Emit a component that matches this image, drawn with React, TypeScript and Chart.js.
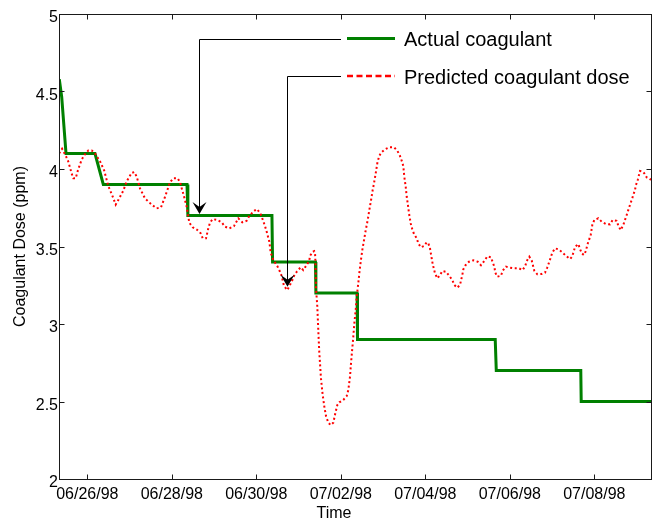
import React, { useEffect, useRef } from 'react';
import { Chart, registerables } from 'chart.js';

Chart.register(...registerables);

// Time axis: days since 06/26/98 00:00
const xMin = -0.67;
const xMax = 13.342;
const tickDays = [0, 2, 4, 6, 8, 10, 12];
const tickLabels = ['06/26/98', '06/28/98', '06/30/98', '07/02/98', '07/04/98', '07/06/98', '07/08/98'];
const yMin = 2;
const yMax = 5;
const yStep = 0.5;

const seriesLabels = ['Actual coagulant', 'Predicted coagulant dose'];

const actualTime = [-0.663, -0.606, -0.504, 0.182, 0.379, 2.36, 2.38, 4.37, 4.385, 5.40, 5.41, 6.385, 6.395, 9.655, 9.68, 11.68, 11.69, 13.342];
const actualDose = [4.58, 4.465, 4.10, 4.10, 3.90, 3.90, 3.70, 3.70, 3.40, 3.40, 3.20, 3.20, 2.90, 2.90, 2.70, 2.70, 2.50, 2.50];

const predictedTime = [
  -0.667, -0.597, -0.464, -0.41, -0.37, -0.33, -0.275, -0.213, -0.133, -0.07,
  0.024, 0.104, 0.182, 0.30, 0.40, 0.497, 0.59, 0.672, 0.734, 0.852,
  0.932, 1.05, 1.11, 1.17, 1.247, 1.366, 1.524, 1.642, 1.744, 1.839,
  1.957, 2.036, 2.14, 2.194, 2.272, 2.352, 2.414, 2.494, 2.59, 2.684,
  2.731, 2.81, 2.864, 2.904, 2.968, 3.077, 3.181, 3.259, 3.361, 3.472,
  3.574, 3.669, 3.773, 3.834, 3.929, 4.009, 4.088, 4.128, 4.206, 4.246,
  4.308, 4.341, 4.402, 4.497, 4.561, 4.601, 4.655, 4.734, 4.838, 4.892,
  4.956, 5.05, 5.112, 5.193, 5.254, 5.27, 5.335, 5.37, 5.39, 5.40,
  5.413, 5.444, 5.467, 5.49, 5.508, 5.53, 5.571, 5.61, 5.65, 5.705,
  5.761, 5.822, 5.87, 5.917, 5.965, 6.059, 6.139, 6.178, 6.218, 6.241,
  6.272, 6.296, 6.32, 6.353, 6.376, 6.414, 6.438, 6.471, 6.509, 6.55,
  6.59, 6.637, 6.675, 6.716, 6.755, 6.786, 6.826, 6.864, 6.904, 6.951,
  7.046, 7.148, 7.259, 7.338, 7.401, 7.441, 7.479, 7.503, 7.536, 7.56,
  7.584, 7.614, 7.654, 7.692, 7.733, 7.796, 7.834, 7.891, 7.969, 8.033,
  8.071, 8.111, 8.151, 8.175, 8.229, 8.284, 8.348, 8.402, 8.49, 8.568,
  8.639, 8.686, 8.757, 8.821, 8.876, 8.9, 8.956, 9.034, 9.136, 9.24,
  9.318, 9.396, 9.467, 9.555, 9.595, 9.633, 9.657, 9.704, 9.792, 9.832,
  9.91, 10.005, 10.107, 10.218, 10.305, 10.367, 10.40, 10.462, 10.518, 10.58,
  10.651, 10.755, 10.833, 10.888, 10.928, 10.969, 11.006, 11.07, 11.148, 11.228,
  11.323, 11.425, 11.472, 11.512, 11.543, 11.621, 11.662, 11.702, 11.756, 11.804,
  11.834, 11.874, 11.915, 11.953, 12.0, 12.095, 12.175, 12.277, 12.371, 12.435,
  12.53, 12.568, 12.624, 12.686, 12.726, 12.766, 12.804, 12.844, 12.885, 12.923,
  12.963, 12.987, 13.027, 13.082, 13.146, 13.183, 13.24, 13.296, 13.342,
];
const predictedDose = [
  4.10, 4.13, 4.06, 4.01, 3.97, 3.94, 3.94, 4.00, 4.06, 4.09,
  4.12, 4.12, 4.10, 4.05, 3.99, 3.89, 3.83, 3.77, 3.80, 3.86,
  3.92, 3.975, 3.98, 3.95, 3.875, 3.81, 3.77, 3.746, 3.753, 3.82,
  3.914, 3.94, 3.94, 3.914, 3.84, 3.757, 3.654, 3.624, 3.61, 3.585,
  3.553, 3.553, 3.617, 3.654, 3.677, 3.671, 3.656, 3.628, 3.617, 3.632,
  3.682, 3.656, 3.666, 3.697, 3.725, 3.742, 3.718, 3.692, 3.632, 3.595,
  3.531, 3.46, 3.413, 3.374, 3.337, 3.31, 3.245, 3.219, 3.273, 3.31,
  3.337, 3.366, 3.348, 3.381, 3.408, 3.439, 3.466, 3.47, 3.456, 3.40,
  3.23, 3.112, 2.961, 2.821, 2.746, 2.65, 2.542, 2.467, 2.406, 2.363,
  2.348, 2.363, 2.424, 2.477, 2.495, 2.51, 2.535, 2.574, 2.66, 2.746,
  2.843, 2.918, 3.004, 3.09, 3.176, 3.263, 3.327, 3.402, 3.477, 3.542,
  3.606, 3.671, 3.735, 3.80, 3.865, 3.908, 3.972, 4.037, 4.08, 4.105,
  4.127, 4.14, 4.14, 4.118, 4.084, 4.054, 4.019, 3.95, 3.886, 3.821,
  3.778, 3.714, 3.65, 3.611, 3.581, 3.553, 3.521, 3.495, 3.503, 3.527,
  3.521, 3.488, 3.424, 3.387, 3.327, 3.295, 3.316, 3.342, 3.337, 3.31,
  3.284, 3.252, 3.234, 3.252, 3.316, 3.353, 3.381, 3.402, 3.411, 3.402,
  3.379, 3.406, 3.436, 3.43, 3.398, 3.37, 3.331, 3.305, 3.312, 3.344,
  3.37, 3.363, 3.359, 3.359, 3.348, 3.376, 3.406, 3.434, 3.41, 3.344,
  3.321, 3.323, 3.331, 3.366, 3.396, 3.43, 3.46, 3.488, 3.482, 3.466,
  3.441, 3.419, 3.434, 3.466, 3.498, 3.516, 3.484, 3.456, 3.445, 3.473,
  3.51, 3.542, 3.574, 3.639, 3.671, 3.682, 3.66, 3.645, 3.643, 3.671,
  3.666, 3.634, 3.606, 3.639, 3.671, 3.703, 3.735, 3.768, 3.80, 3.832,
  3.865, 3.897, 3.929, 3.987, 3.983, 3.972, 3.946, 3.94, 3.93,
];

// Arrow targets (time, dose) for the legend-to-curve annotation arrows
const arrowTime = [2.65, 4.734];
const arrowDose = [3.71, 3.24];

const FONT = "'Liberation Sans', Arial, Helvetica, sans-serif";
const GREEN = 'rgb(0,128,0)';
const RED = 'rgb(255,0,0)';
const AXIS = '#1a1a1a';

const decorPlugin = {
  id: 'decor',
  afterDatasetsDraw(chart: any) {
    const { ctx, chartArea: ca, scales } = chart;
    const xs = scales.x;
    const ys = scales.y;
    ctx.save();
    ctx.setLineDash([]);
    ctx.strokeStyle = AXIS;
    ctx.lineWidth = 1;
    const L = Math.round(ca.left) + 0.5;
    const R = Math.round(ca.right) + 0.5;
    const T = Math.round(ca.top) + 0.5;
    const B = Math.round(ca.bottom) + 0.5;
    ctx.strokeRect(L, T, R - L, B - T);
    // inward ticks
    const tl = 5;
    ctx.beginPath();
    tickDays.forEach((d) => {
      const px = Math.round(xs.getPixelForValue(d)) + 0.5;
      ctx.moveTo(px, B); ctx.lineTo(px, B - tl);
      ctx.moveTo(px, T); ctx.lineTo(px, T + tl);
    });
    for (let v = yMin; v <= yMax + 1e-9; v += yStep) {
      const py = Math.round(ys.getPixelForValue(v)) + 0.5;
      ctx.moveTo(L, py); ctx.lineTo(L + tl, py);
      ctx.moveTo(R, py); ctx.lineTo(R - tl, py);
    }
    ctx.stroke();

    // legend (inside plot, no box)
    const legendX = ca.left + 288;
    const lineLen = 48;
    const rows = [ca.top + 24.5, ca.top + 62];
    const datasets = chart.data.datasets;
    datasets.forEach((ds: any, i: number) => {
      const y = rows[i];
      ctx.save();
      ctx.strokeStyle = ds.borderColor;
      ctx.lineWidth = i === 0 ? 3 : 2.5;
      ctx.setLineDash(i === 0 ? [] : [6, 3.5]);
      ctx.beginPath();
      ctx.moveTo(legendX, y);
      ctx.lineTo(legendX + lineLen, y);
      ctx.stroke();
      ctx.restore();
      ctx.fillStyle = '#000';
      ctx.font = `20px ${FONT}`;
      ctx.textAlign = 'left';
      ctx.textBaseline = 'middle';
      ctx.fillText(ds.label, legendX + lineLen + 9, y + 2);
    });

    // annotation arrows from legend to curves
    ctx.strokeStyle = '#000';
    ctx.fillStyle = '#000';
    ctx.lineWidth = 1;
    arrowTime.forEach((t, i) => {
      const ax = Math.round(xs.getPixelForValue(t)) + 0.5;
      const ay = ys.getPixelForValue(arrowDose[i]);
      const ry = Math.round(rows[i]) + 0.5;
      ctx.beginPath();
      ctx.moveTo(legendX - 6, ry);
      ctx.lineTo(ax, ry);
      ctx.lineTo(ax, ay - 6);
      ctx.stroke();
      ctx.beginPath();
      ctx.moveTo(ax, ay);
      ctx.lineTo(ax - 7, ay - 12);
      ctx.lineTo(ax, ay - 7);
      ctx.lineTo(ax + 7, ay - 12);
      ctx.closePath();
      ctx.fill();
    });

    // x axis title
    ctx.fillStyle = '#000';
    ctx.font = `16px ${FONT}`;
    ctx.textAlign = 'center';
    ctx.textBaseline = 'middle';
    ctx.fillText('Time', (ca.left + ca.right) / 2 - 21, 514);
    ctx.restore();
  },
};

export default function App() {
  const canvasRef = useRef<HTMLCanvasElement | null>(null);

  useEffect(() => {
    document.body.style.margin = '0';
    const canvas = canvasRef.current;
    if (!canvas) return;
    const chart = new Chart(canvas, {
      type: 'line',
      data: {
        datasets: [
          {
            label: seriesLabels[0],
            data: actualTime.map((t, i) => ({ x: t, y: actualDose[i] })),
            borderColor: GREEN,
            backgroundColor: GREEN,
            borderWidth: 3,
            pointRadius: 0,
            tension: 0,
            fill: false,
            order: 1,
          },
          {
            label: seriesLabels[1],
            data: predictedTime.map((t, i) => ({ x: t, y: predictedDose[i] })),
            borderColor: RED,
            backgroundColor: RED,
            borderWidth: 2,
            borderDash: [2, 2.6],
            borderCapStyle: 'butt',
            pointRadius: 0,
            tension: 0,
            fill: false,
            order: 0,
          },
        ],
      },
      options: {
        responsive: false,
        animation: false,
        devicePixelRatio: 1,
        layout: { padding: { left: 0, top: 14, right: 5, bottom: 0 } },
        plugins: {
          legend: { display: false },
          tooltip: { enabled: false },
          title: { display: false },
        },
        scales: {
          x: {
            type: 'linear',
            min: xMin,
            max: xMax,
            grid: { display: false, drawTicks: false },
            border: { display: false },
            afterBuildTicks: (scale: any) => {
              scale.ticks = tickDays.map((value) => ({ value }));
            },
            afterFit: (scale: any) => {
              scale.height = 42;
            },
            ticks: {
              autoSkip: false,
              maxRotation: 0,
              padding: 6,
              color: '#000',
              font: { family: FONT, size: 16 },
              callback: (value: any) => {
                const i = tickDays.indexOf(Number(value));
                return i >= 0 ? tickLabels[i] : '';
              },
            },
          },
          y: {
            type: 'linear',
            min: yMin,
            max: yMax,
            grid: { display: false, drawTicks: false },
            border: { display: false },
            afterFit: (scale: any) => {
              scale.width = 59;
            },
            ticks: {
              stepSize: yStep,
              padding: 1,
              labelOffset: 4,
              color: '#000',
              font: { family: FONT, size: 16 },
              callback: (value: any) => String(Math.round(Number(value) * 10) / 10),
            },
            title: {
              display: true,
              text: 'Coagulant Dose (ppm)',
              color: '#000',
              font: { family: FONT, size: 16 },
              padding: { top: 11, bottom: 0 },
            },
          },
        },
      },
      plugins: [decorPlugin],
    } as any);
    return () => chart.destroy();
  }, []);

  return (
    <div style={{ position: 'absolute', left: 0, top: 0, width: 656, height: 521, background: '#fff' }}>
      <canvas ref={canvasRef} width={656} height={521} style={{ display: 'block', width: 656, height: 521 }} />
    </div>
  );
}
